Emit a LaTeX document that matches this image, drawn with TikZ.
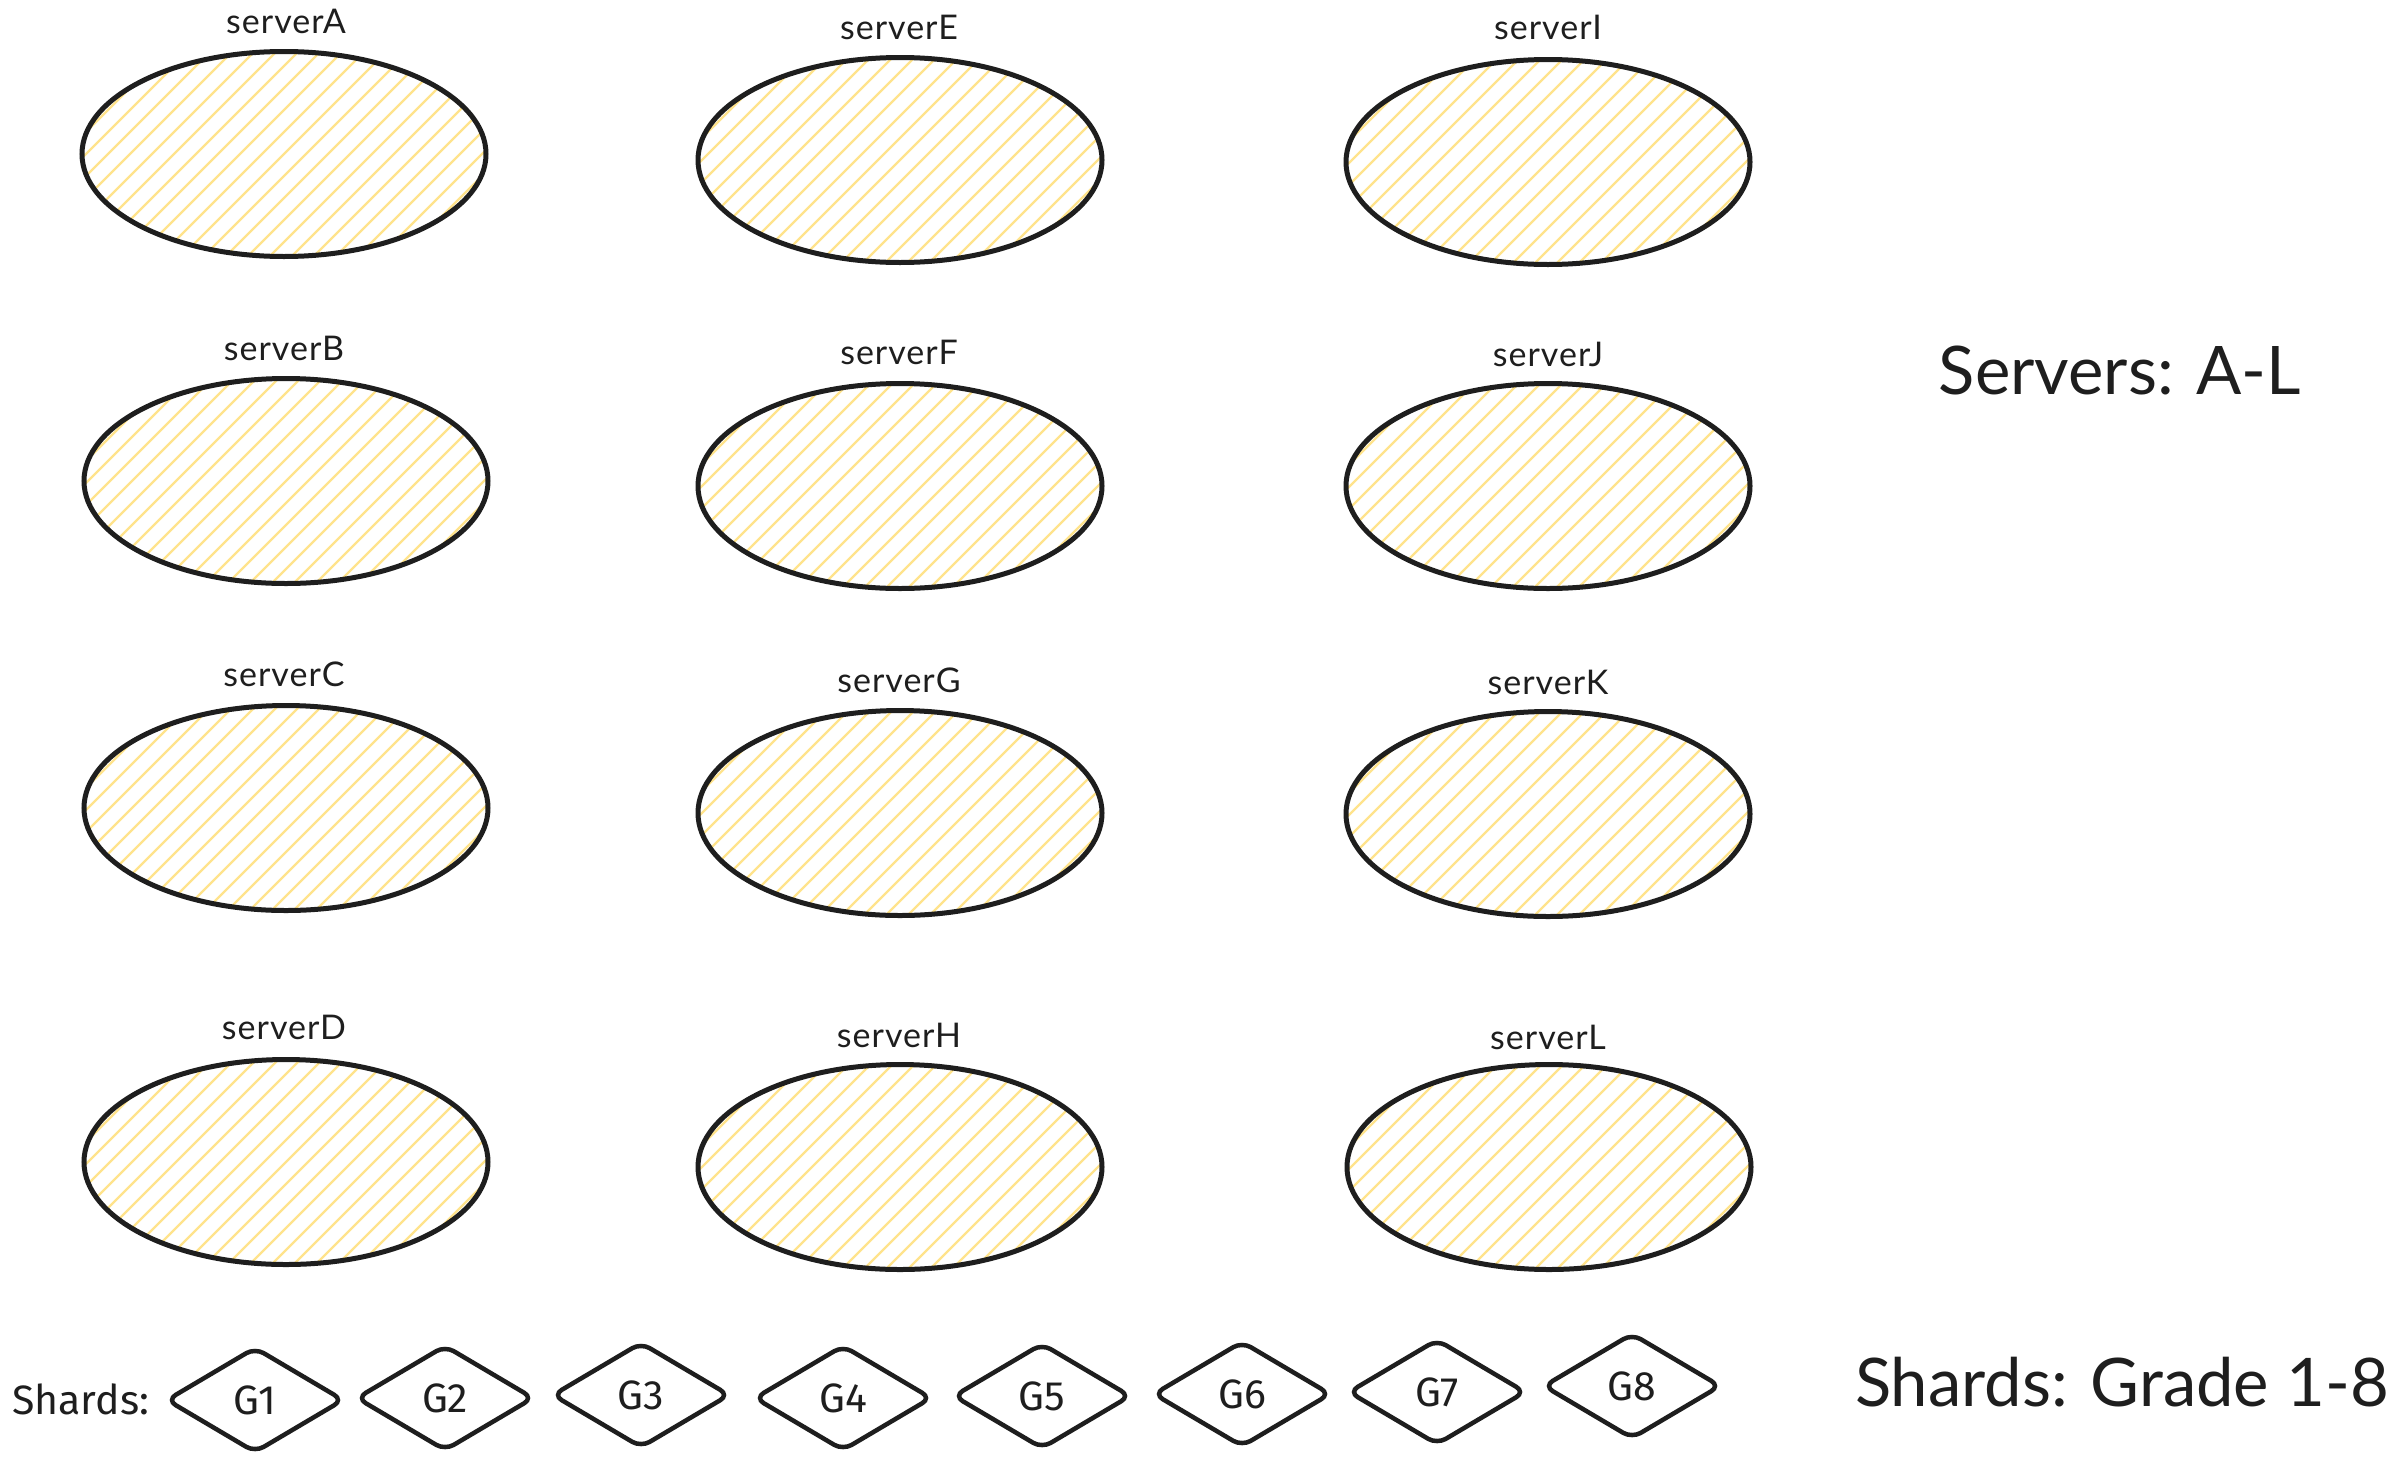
\documentclass[tikz,border=0pt]{standalone}
\usepackage{fontspec}
\setmainfont{Lato}
\newfontfamily\lblfont[LetterSpace=3]{Lato}
\newfontfamily\shfont{Fira Sans}
\usetikzlibrary{shapes.geometric}
\definecolor{ink}{HTML}{1E1E1E}
\definecolor{hatchc}{HTML}{FFE38C}
\tikzset{
  server/.style={ellipse, draw=ink, line width=5pt, minimum width=404pt, minimum height=205pt, inner sep=0pt,
    path picture={
      \foreach \d in {-440,-418,...,440}
        \draw[hatchc, line width=2.2pt] ([xshift=\d pt-220pt, yshift=-220pt]path picture bounding box.center) -- ++(440pt,440pt);
    }},
  lbl/.style={font=\lblfont\fontsize{34}{38}\selectfont, text=ink, anchor=base, inner sep=0pt},
  shard/.style={draw=ink, line width=4.5pt, rounded corners=10pt},
  shtxt/.style={font=\shfont\fontsize{41}{46}\selectfont, text=ink, inner sep=0pt},
  head/.style={font=\fontsize{67}{76}\selectfont, text=ink, inner sep=0pt},
}
\begin{document}
\begin{tikzpicture}[x=1pt,y=-1pt]
\useasboundingbox (0,0) rectangle (2389,1459);
% servers
\node[server] (A) at (284,154) {};
\node[server] (B) at (286,481) {};
\node[server] (C) at (286,808) {};
\node[server] (D) at (286,1162) {};
\node[server] (E) at (900,160) {};
\node[server] (F) at (900,486) {};
\node[server] (G) at (900,813) {};
\node[server] (H) at (900,1167) {};
\node[server] (I) at (1548,162) {};
\node[server] (J) at (1548,486) {};
\node[server] (K) at (1548,814) {};
\node[server] (L) at (1549,1167) {};
% labels
\node[lbl] (lA) at (286,33) {serverA};
\node[lbl] (lB) at (284,360) {serverB};
\node[lbl] (lC) at (284,686) {serverC};
\node[lbl] (lD) at (284,1039) {serverD};
\node[lbl] (lE) at (899,39) {serverE};
\node[lbl] (lF) at (899,364) {serverF};
\node[lbl] (lG) at (899,692) {serverG};
\node[lbl] (lH) at (899,1047) {serverH};
\node[lbl] (lI) at (1548,39) {serverI};
\node[lbl] (lJ) at (1548,366) {serverJ};
\node[lbl] (lK) at (1548,694) {serverK};
\node[lbl] (lL) at (1548,1049) {serverL};
% shards
\node[shtxt, anchor=base west] (sh) at (12,1414) {Shards:};
\foreach \n/\x/\y in {1/255/1400,2/445/1398,3/641/1395,4/843/1398,5/1042/1396,6/1242/1394,7/1437/1392,8/1632/1386}{
  \draw[shard] (\x-88,\y) -- (\x,\y-52) -- (\x+88,\y) -- (\x,\y+52) -- cycle;
  \node[shtxt] (g\n) at (\x,\y) {G\n};
}
% headings
\node[head, anchor=base] (hs) at (2120,394) {Servers: A-L};
\node[head, anchor=base] (hg) at (2122,1406) {Shards: Grade 1-8};
\end{tikzpicture}
\end{document}
